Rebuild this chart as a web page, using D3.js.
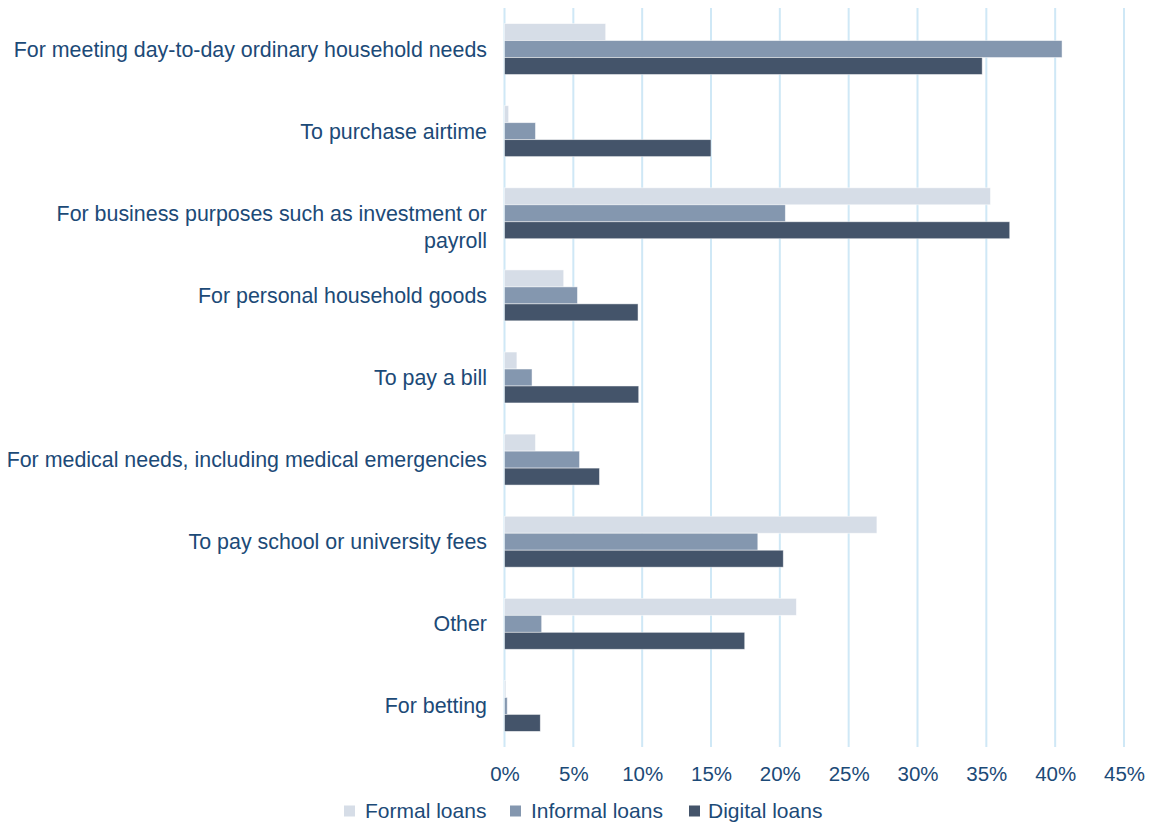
<!DOCTYPE html>
<html>
<head>
<meta charset="utf-8">
<script src="https://cdn.jsdelivr.net/npm/d3@7"></script>
<style>
  body { margin: 0; background: #ffffff; }
  svg { display: block; font-family: "Liberation Sans", Arial, sans-serif; }
</style>
</head>
<body>
<svg id="chart" width="1150" height="825"></svg>
<script>
// Loan purposes (top to bottom)
const categories = [
  ["For meeting day-to-day ordinary household needs"],
  ["To purchase airtime"],
  ["For business purposes such as investment or", "payroll"],
  ["For personal household goods"],
  ["To pay a bill"],
  ["For medical needs, including medical emergencies"],
  ["To pay school or university fees"],
  ["Other"],
  ["For betting"]
];

const seriesNames = ["Formal loans", "Informal loans", "Digital loans"];

// Share of borrowers (%)
const formalLoans   = [7.35, 0.3, 35.3, 4.3, 0.9, 2.25, 27.05, 21.2, 0.1];
const informalLoans = [40.5, 2.25, 20.4, 5.3, 2.0, 5.45, 18.4, 2.7, 0.2];
const digitalLoans  = [34.7, 15.0, 36.7, 9.7, 9.75, 6.9, 20.25, 17.45, 2.6];

const tickValues = [0, 5, 10, 15, 20, 25, 30, 35, 40, 45];

const colors = ["#d6dde7", "#8497af", "#44546a"];
const textColor = "#1c4a77";
const labelSize = 21.4;

const svg = d3.select("#chart");
const margin = { left: 504.5, right: 1124, top: 8, bottom: 747 };

const x = d3.scaleLinear().domain([0, 45]).range([margin.left, margin.right]);
const y = d3.scaleBand()
  .domain(d3.range(categories.length))
  .range([margin.top, margin.bottom])
  .paddingInner(0.38)
  .paddingOuter(0.19);
const ySub = d3.scaleBand().domain(d3.range(3)).range([0, y.bandwidth()]);

// Vertical gridlines
svg.append("g")
  .selectAll("line")
  .data(tickValues)
  .join("line")
  .attr("x1", d => x(d)).attr("x2", d => x(d))
  .attr("y1", margin.top).attr("y2", margin.bottom)
  .attr("stroke", "#cfe8f6")
  .attr("stroke-width", 2);

// Bars
const seriesData = [formalLoans, informalLoans, digitalLoans];
const groups = svg.append("g")
  .selectAll("g")
  .data(seriesData)
  .join("g")
  .attr("fill", (d, i) => colors[i]);

groups.each(function (vals, si) {
  d3.select(this).selectAll("rect")
    .data(vals)
    .join("rect")
    .attr("x", x(0))
    .attr("y", (d, ci) => y(ci) + ySub(si))
    .attr("width", d => x(d) - x(0))
    .attr("height", ySub.bandwidth())
    .attr("stroke", "#ffffff")
    .attr("stroke-opacity", 0.6)
    .attr("stroke-width", 0.8);
});

// Category labels: first line centred on the group, extra lines wrap below
const labels = svg.append("g")
  .selectAll("text")
  .data(categories)
  .join("text")
  .attr("x", 487)
  .attr("y", (d, i) => y(i) + y.bandwidth() / 2)
  .attr("text-anchor", "end")
  .attr("fill", textColor)
  .attr("font-size", labelSize);

labels.each(function (lines) {
  const t = d3.select(this);
  lines.forEach((line, li) => {
    t.append("tspan")
      .attr("x", 487)
      .attr("dy", li === 0 ? "0.35em" : "1.25em")
      .text(line);
  });
});

// X axis tick labels
const xAxis = d3.axisBottom(x)
  .tickValues(tickValues)
  .tickFormat(d => d + "%")
  .tickSize(0)
  .tickPadding(0);
const axisG = svg.append("g")
  .attr("transform", `translate(0, ${margin.bottom + 19})`)
  .call(xAxis);
axisG.select(".domain").remove();
axisG.selectAll("text")
  .attr("fill", textColor)
  .attr("font-size", 20.5)
  .attr("font-family", "'Liberation Sans', Arial, sans-serif");

// Legend
const legendItems = [
  { name: seriesNames[0], sx: 344, tx: 365 },
  { name: seriesNames[1], sx: 510, tx: 531 },
  { name: seriesNames[2], sx: 689, tx: 708 }
];
const legend = svg.append("g").attr("transform", "translate(0, 811)");
legend.selectAll("rect")
  .data(legendItems)
  .join("rect")
  .attr("x", d => d.sx)
  .attr("y", -5.5)
  .attr("width", 11)
  .attr("height", 11)
  .attr("fill", (d, i) => colors[i]);
legend.selectAll("text")
  .data(legendItems)
  .join("text")
  .attr("x", d => d.tx)
  .attr("y", 0)
  .attr("dy", "0.35em")
  .attr("fill", textColor)
  .attr("font-size", 21)
  .text(d => d.name);
</script>
</body>
</html>
